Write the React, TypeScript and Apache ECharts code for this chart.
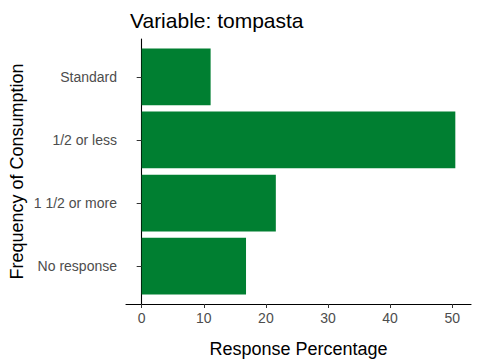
import React, { useEffect, useRef } from "react";
import * as echarts from "echarts";

const categories = ["No response", "1 1/2 or more", "1/2 or less", "Standard"];
const percentages = [16.8, 21.6, 50.5, 11.1];
const xTicks = [0, 10, 20, 30, 40, 50];

const FONT = "'Liberation Sans', Arial, sans-serif";
const BAR_COLOR = "#007F31";

export default function App() {
  const ref = useRef<HTMLDivElement>(null);
  useEffect(() => {
    if (!ref.current) return;
    const chart = echarts.init(ref.current, null, { renderer: "svg" });
    const dataMax = Math.max(...percentages);
    const xMin = -0.05 * dataMax;
    const xMax = dataMax * 1.05;
    const panelTop = 39;
    const panelBottom = 304;
    const unit = (panelBottom - panelTop) / (categories.length + 0.2);
    const left = 126;
    const right = 9;
    chart.setOption({
      animation: false,
      textStyle: { fontFamily: FONT },
      title: {
        text: "Variable: tompasta",
        left: 125,
        top: 5,
        textStyle: { fontFamily: FONT, fontSize: 21, fontWeight: "normal", color: "#000" },
      },
      grid: [
        {
          left,
          right,
          top: panelTop + 0.1 * unit,
          bottom: 360 - (panelBottom - 0.1 * unit),
          containLabel: false,
          outerBoundsMode: "none",
        },
        {
          left,
          right,
          top: panelTop,
          bottom: 360 - panelBottom,
          containLabel: false,
          outerBoundsMode: "none",
        },
      ],
      xAxis: [
        {
          gridIndex: 0,
          type: "value",
          min: xMin,
          max: xMax,
          show: false,
          splitLine: { show: false },
        },
        {
          gridIndex: 1,
          type: "value",
          min: xMin,
          max: xMax,
          name: "Response Percentage",
          nameLocation: "middle",
          nameGap: 36,
          nameTextStyle: { fontFamily: FONT, fontSize: 18, color: "#000" },
          axisLine: { show: true, lineStyle: { color: "#000", width: 1.1 } },
          axisTick: {
            show: true,
            length: 4,
            customValues: xTicks,
            lineStyle: { color: "#333", width: 1 },
          },
          axisLabel: {
            customValues: xTicks,
            margin: 7,
            fontFamily: FONT,
            fontSize: 14,
            color: "#4D4D4D",
          },
          splitLine: { show: false },
        },
      ],
      yAxis: [
        {
          gridIndex: 0,
          type: "category",
          data: categories,
          axisLine: { show: false },
          axisTick: { show: true, length: 5, alignWithLabel: true, lineStyle: { color: "#333" } },
          axisLabel: { margin: 9, fontFamily: FONT, fontSize: 14, color: "#4D4D4D" },
          splitLine: { show: false },
        },
        {
          gridIndex: 1,
          type: "value",
          min: 0,
          max: 1,
          name: "Frequency of Consumption",
          nameLocation: "middle",
          nameGap: 100,
          nameTextStyle: { fontFamily: FONT, fontSize: 18, color: "#000" },
          axisLine: { show: true, lineStyle: { color: "#000", width: 1.1 } },
          axisTick: { show: false },
          axisLabel: { show: false },
          splitLine: { show: false },
        },
      ],
      series: [
        {
          type: "bar",
          xAxisIndex: 0,
          yAxisIndex: 0,
          data: percentages,
          barCategoryGap: "10%",
          itemStyle: { color: BAR_COLOR },
        },
      ],
    });
    return () => chart.dispose();
  }, []);
  return <div ref={ref} style={{ width: 480, height: 360, position: "absolute", left: 0, top: 0 }} />;
}
